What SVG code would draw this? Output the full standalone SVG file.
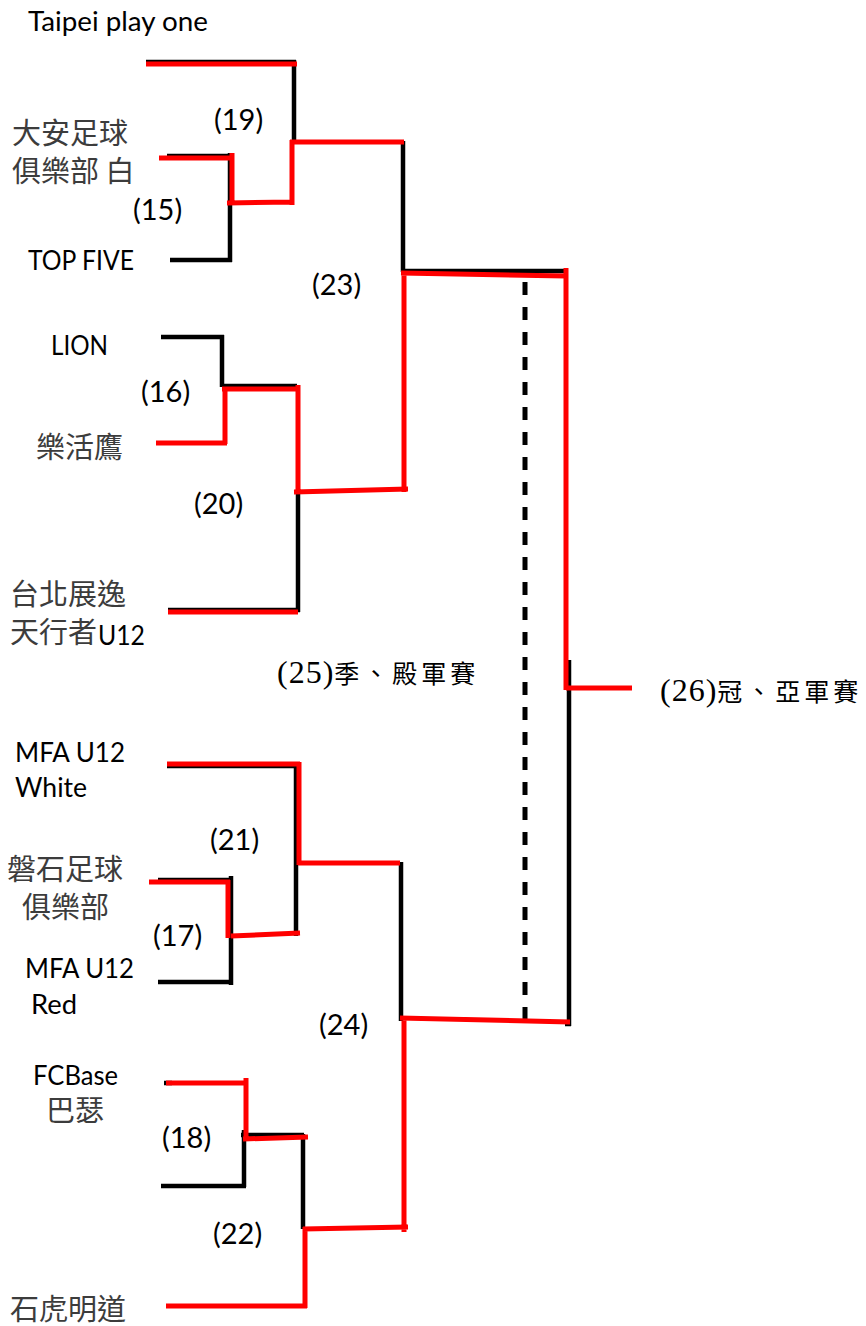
<svg xmlns="http://www.w3.org/2000/svg" width="866" height="1326" viewBox="0 0 866 1326">
<style>
.bk{fill:none;stroke:#000;stroke-width:4.5}
.rd{fill:none;stroke:#ff0000;stroke-width:5}
.dash{fill:none;stroke:#000;stroke-width:5;stroke-dasharray:13 12}
.lat{font-family:Lato,"Liberation Sans",sans-serif;font-size:26px;fill:#000}
.cjk{font-family:"Noto Sans CJK TC","Noto Sans CJK SC",sans-serif;font-size:29px;fill:#3c3c3c}
.num{font-family:Lato,"Liberation Sans",sans-serif;font-size:29px;fill:#000}
.ser{font-family:"Liberation Serif",serif;font-size:32px;fill:#000;letter-spacing:1px}
.serc{font-family:"Noto Sans CJK TC","Noto Sans CJK SC",sans-serif;font-size:25px;fill:#000;letter-spacing:4px}
</style>
<rect width="866" height="1326" fill="#fff"/>
<g id="connectors">
<g id="black-lines">
<path class="bk" d="M146,62H296M294,60V143M167,156H231M230,153V262M170,260H232M403,141V272M403,271H565"/>
<path class="bk" d="M161,337H224M222,335V387M222,386H297M298,490V612M168,610H300"/>
<path class="bk" d="M569,660V1026M565,1024H571"/>
<path class="bk" d="M167,766H297M296,764V936M158,880H232M231,876V985M158,982H233M401,862V1021"/>
<path class="bk" d="M164,1083H172M244,1130V1187M161,1186H246M241,1135H304M303,1134V1229"/>
<path class="dash" d="M525,282V1022"/>
</g>
<g id="red-lines">
<path class="rd" d="M146,64H297"/>
<path class="rd" d="M159,158H233M232,153V205M227,203L294,202M292,205V140M290,142H404"/>
<path class="rd" d="M401,273L566,276M404,271V492M566,268V690M566,688H632"/>
<path class="rd" d="M222,389H299M225,388V444M156,443H227M298,385V493M294,492L408,489M168,612H298"/>
<path class="rd" d="M167,764H300M299,762V865M298,863H400"/>
<path class="rd" d="M149,882H230M228,880V938M231,936L300,933"/>
<path class="rd" d="M400,1018L570,1022M404,1016V1232M303,1229L408,1227M305,1227V1308M166,1306H307"/>
<path class="rd" d="M166,1083H247M246,1078V1140M243,1139L308,1137"/>
</g>
</g>
<g id="team-taipei-play-one"><text class="lat" x="28" y="31" textLength="180" lengthAdjust="spacingAndGlyphs">Taipei play one</text></g>
<g id="team-daan"><text class="cjk" x="12" y="144">大安足球</text><text class="cjk" x="12" y="182">俱樂部 白</text></g>
<g id="team-top-five"><text class="lat" x="28" y="270" textLength="106" lengthAdjust="spacingAndGlyphs">TOP FIVE</text></g>
<g id="team-lion"><text class="lat" x="51" y="355" textLength="57" lengthAdjust="spacingAndGlyphs">LION</text></g>
<g id="team-lehuoying"><text class="cjk" x="36" y="458">樂活鷹</text></g>
<g id="team-taipei-zhanyi"><text class="cjk" x="10" y="605">台北展逸</text><text class="cjk" x="10" y="643">天行者</text><text class="lat" x="98" y="645" textLength="47" lengthAdjust="spacingAndGlyphs">U12</text></g>
<g id="team-mfa-white"><text class="lat" x="15" y="762" textLength="110" lengthAdjust="spacingAndGlyphs">MFA U12</text><text class="lat" x="15" y="797" textLength="72" lengthAdjust="spacingAndGlyphs">White</text></g>
<g id="team-panshi"><text class="cjk" x="7" y="880">磐石足球</text><text class="cjk" x="22" y="918">俱樂部</text></g>
<g id="team-mfa-red"><text class="lat" x="25" y="978" textLength="109" lengthAdjust="spacingAndGlyphs">MFA U12</text><text class="lat" x="31" y="1014" textLength="46" lengthAdjust="spacingAndGlyphs">Red</text></g>
<g id="team-fcbase"><text class="lat" x="33" y="1085" textLength="85" lengthAdjust="spacingAndGlyphs">FCBase</text><text class="cjk" x="46" y="1121">巴瑟</text></g>
<g id="team-shihu"><text class="cjk" x="10" y="1320">石虎明道</text></g>
<g id="match-labels">
<text class="num" x="214" y="130">(19)</text>
<text class="num" x="133" y="220">(15)</text>
<text class="num" x="312" y="295">(23)</text>
<text class="num" x="141" y="402">(16)</text>
<text class="num" x="194" y="514">(20)</text>
<text class="num" x="210" y="850">(21)</text>
<text class="num" x="153" y="946">(17)</text>
<text class="num" x="319" y="1035">(24)</text>
<text class="num" x="162" y="1148">(18)</text>
<text class="num" x="213" y="1244">(22)</text>
</g>
<g id="label-25"><text class="ser" x="277" y="683">(25)<tspan class="serc">季、殿軍賽</tspan></text></g>
<g id="label-26"><text class="ser" x="660" y="701">(26)<tspan class="serc">冠、亞軍賽</tspan></text></g>
</svg>
